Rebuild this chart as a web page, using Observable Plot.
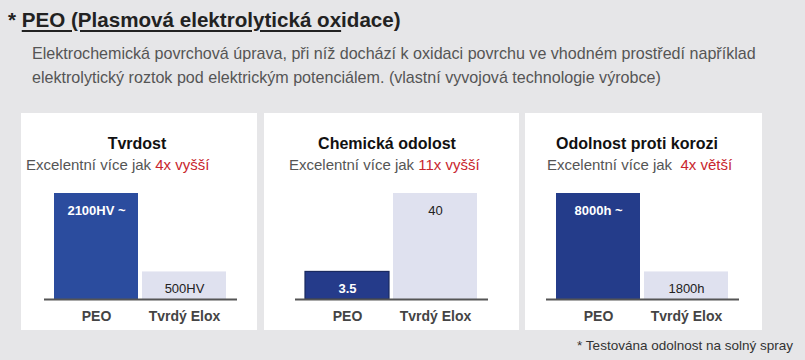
<!DOCTYPE html>
<html>
<head>
<meta charset="utf-8">
<script src="https://cdn.jsdelivr.net/npm/d3@7"></script>
<script src="https://cdn.jsdelivr.net/npm/@observablehq/plot@0.6"></script>
<style>
  html, body { margin:0; padding:0; }
  body { width:805px; height:360px; background:#e6e6e8; position:relative; overflow:hidden;
         font-family:"Liberation Sans", Arial, sans-serif; }
  .abs { position:absolute; white-space:nowrap; }
  #title { left:8px; top:9px; font-size:20.6px; line-height:21px; font-weight:bold; color:#222; }
  #title .u { text-decoration:underline; text-decoration-thickness:1.5px; text-underline-offset:3px; }
  #desc { left:32px; top:41px; font-size:16.1px; line-height:24px; color:#555; }
  .panel { position:absolute; top:113px; height:217px; background:#fff; }
  .ptitle { font-size:16px; line-height:16px; font-weight:bold; color:#111; transform:translateX(-50%); }
  .psub { font-size:15px; line-height:15px; color:#555; }
  .psub .hl { color:#c8262e; }
  #foot { right:12px; top:339px; font-size:13.5px; line-height:14px; color:#333; }
  .chart { position:absolute; top:180px; }
  .chart svg g[aria-label="x-axis tick label"] text { font-weight:bold; }
</style>
</head>
<body>
<div id="title" class="abs">* <span class="u">PEO (Plasmová elektrolytická ox</span>idace)</div>
<div id="desc" class="abs">Elektrochemická povrchová úprava, při níž dochází k oxidaci povrchu ve vhodném prostředí například<br>elektrolytický roztok pod elektrickým potenciálem. (vlastní vyvojová technologie výrobce)</div>
<div id="foot" class="abs">* Testována odolnost na solný spray</div>
<script>
// ---- data ----
const panelTitles = ["Tvrdost", "Chemická odolost", "Odolnost proti korozi"];
const subtitleText = ["Excelentní více jak", "Excelentní více jak", "Excelentní více jak"];
const highlights = ["4x vyšší", "11x vyšší", "4x větší"];
const categories = ["PEO", "Tvrdý Elox"];
// relative bar heights as drawn in the infographic (0–100)
const barLevels = [[100, 26], [26, 100], [100, 26]];
const barLabels = [["2100HV ~", "500HV"], ["3.5", "40"], ["8000h ~", "1800h"]];

// ---- layout (page coordinates) ----
const panelBox = [[21, 236], [264, 255], [525, 237]];
const chartLeft = [44, 295, 546];
const titleCenter = [137, 387, 637];
const subLeft = [26, 289, 547];
const peoFill = ["#2b4c9e", "#253b8a", "#243c8a"];
const peoStroke = [null, "#1a2a60", null];
const eloxFill = "#dfe1ef";

panelTitles.forEach((t, i) => {
  const p = document.createElement("div");
  p.className = "panel";
  p.style.left = panelBox[i][0] + "px";
  p.style.width = panelBox[i][1] + "px";
  document.body.appendChild(p);

  const h = document.createElement("div");
  h.className = "abs ptitle";
  h.style.left = titleCenter[i] + "px";
  h.style.top = "136px";
  h.textContent = t;
  document.body.appendChild(h);

  const s = document.createElement("div");
  s.className = "abs psub";
  s.style.left = subLeft[i] + "px";
  s.style.top = "157px";
  s.innerHTML = subtitleText[i] + (i === 2 ? "&nbsp; " : " ") + '<span class="hl">' + highlights[i] + "</span>";
  document.body.appendChild(s);

  const data = categories.map((c, j) => ({cat: c, level: barLevels[i][j], label: barLabels[i][j]}));
  const peoData = data.filter(d => d.cat === "PEO");
  const otherData = data.filter(d => d.cat !== "PEO");

  const chart = Plot.plot({
    width: 193,
    height: 150,
    marginTop: 13,
    marginBottom: 31,
    marginLeft: 0,
    marginRight: 0,
    style: {background: "transparent", fontFamily: "Liberation Sans, Arial, sans-serif", overflow: "visible"},
    x: {domain: categories, paddingInner: 0.045, paddingOuter: 0.107, label: null},
    y: {domain: [0, 100], axis: null},
    marks: [
      Plot.barY(peoData, {x: "cat", y: "level", fill: peoFill[i],
        stroke: peoStroke[i] || "none", strokeWidth: 1.2}),
      Plot.barY(otherData, {x: "cat", y: "level", fill: eloxFill}),
      Plot.ruleY([0], {stroke: "#555", strokeWidth: 2}),
      Plot.text(peoData, {x: "cat", y: "level", text: "label", dy: 17, fontSize: 13,
        fill: "#fff", fontWeight: "bold"}),
      Plot.text(otherData, {x: "cat", y: "level", text: "label", dy: 17, fontSize: 13,
        fill: "#222"}),
      Plot.axisX({tickSize: 0, tickPadding: 12, fontSize: 14, color: "#444", label: null})
    ]
  });
  const wrap = document.createElement("div");
  wrap.className = "chart";
  wrap.style.left = chartLeft[i] + "px";
  wrap.appendChild(chart);
  document.body.appendChild(wrap);
});
</script>
</body>
</html>
